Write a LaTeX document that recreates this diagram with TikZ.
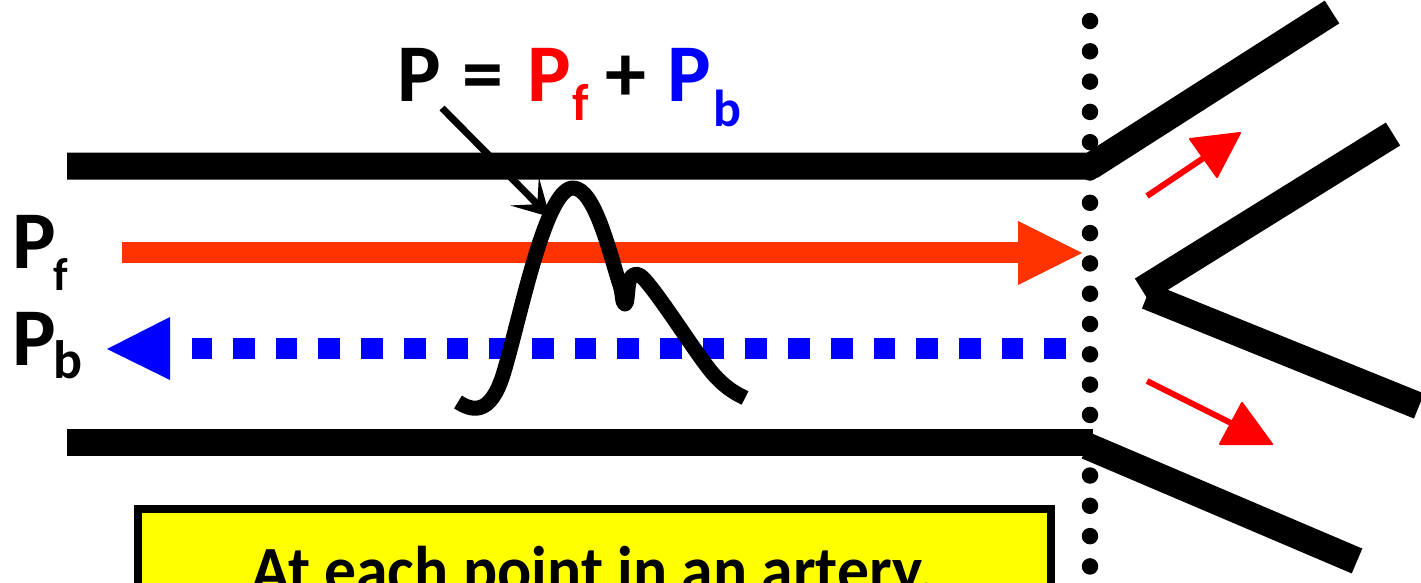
\documentclass[tikz,border=0pt]{standalone}
\usepackage{fontspec}
\setmainfont{Carlito}
\usetikzlibrary{arrows.meta}
\definecolor{pforange}{RGB}{255,51,0}
\definecolor{pfred}{RGB}{255,0,0}
\definecolor{pbblue}{RGB}{0,0,255}
\definecolor{boxyellow}{RGB}{255,255,0}
\newcommand{\subf}[2]{\raisebox{#1}{\fontsize{#2}{#2}\selectfont f}}
\newcommand{\subb}[2]{\raisebox{#1}{\fontsize{#2}{#2}\selectfont b}}
\begin{document}
\begin{tikzpicture}[x=1pt,y=-1pt,
  wall/.style={line width=27pt, line join=bevel, line cap=butt},
  lbl/.style={inner sep=0pt, font=\bfseries\fontsize{82}{82}\selectfont},
  redarrow/.style={pfred, line width=6pt},
  redhead/.style={fill=pfred, draw=pfred, line width=2pt, line join=round},
  dotline/.style={line width=16.5pt, line cap=round, dash pattern=on 0pt off 30.3pt}]
\useasboundingbox (0,0) rectangle (1421,583);
\clip (0,0) rectangle (1421,583);
% key points
\coordinate (tl) at (67,166);
\coordinate (tr) at (1091,166);
\coordinate (tu) at (1332,12);
\coordinate (bl) at (67,442);
\coordinate (br) at (1093,442);
\coordinate (bds) at (1087,446);
\coordinate (bde) at (1357,561);
\coordinate (vapexU) at (1142,290);
\coordinate (vapexL) at (1147,296);
\coordinate (vu) at (1393,134);
\coordinate (vl) at (1419,406);
% walls
\draw[wall] (tl) -- (tr) -- (tu);
\draw[wall] (bl) -- (br);
\draw[wall] (bds) -- (bde);
\draw[wall] (vapexU) -- (vu);
\draw[wall] (vapexL) -- (vl);
% yellow box
\draw[line width=8pt, fill=boxyellow] (138,509) rectangle (1050.5,640);
\node[inner sep=0pt, anchor=base, font=\bfseries\fontsize{66}{66}\selectfont] (txt) at (593,592.5)
  {\scalebox{0.965}[1]{At each point in an artery,}};
% forward arrow (orange)
\coordinate (pfs) at (122,252.5);
\coordinate (pfe) at (1019,252.5);
\draw[pforange, line width=21pt] (pfs) -- (pfe);
\fill[pforange] (1018,221) -- (1018,285) -- (1082,253) -- cycle;
% backward arrow (blue, dotted)
\coordinate (pbs) at (1066,348.5);
\coordinate (pbe) at (192,348.5);
\draw[pbblue, line width=21pt, dash pattern=on 21.7pt off 21pt] (pbs) -- (pbe);
\fill[pbblue] (170,317) -- (170,380) -- (107,349) -- cycle;
% dotted boundary
\coordinate (dtop) at (1090,21);
\coordinate (dbot) at (1090,600);
\draw[dotline] (dtop) -- (dbot);
% red arrows into branches
\coordinate (ra1) at (1147,196);
\coordinate (ra1e) at (1205,157);
\draw[redarrow] (ra1) -- (ra1e);
\filldraw[redhead] (1190,139) -- (1217,177) -- (1240,133) -- cycle;
\coordinate (ra2) at (1147,381);
\coordinate (ra2e) at (1233,424);
\draw[redarrow] (ra2) -- (ra2e);
\filldraw[redhead] (1242,403) -- (1220,444) -- (1272,444) -- cycle;
% pressure wave
\draw[line width=15pt, line join=round, line cap=butt]
  (458,402) .. controls (472,411) and (490,416) .. (503,375)
  .. controls (520,320) and (545,188) .. (573,188)
  .. controls (595,188) and (610,255) .. (620,285)
  .. controls (623,294) and (622,304) .. (625,304)
  .. controls (628,304) and (627,285) .. (630,279)
  .. controls (633,273) and (638,272) .. (645,280)
  .. controls (665,303) and (700,360) .. (715,376)
  .. controls (727,389) and (737,394) .. (745,398);
% labels
\node[lbl, anchor=base west] (eq) at (397,102)
  {P\kern3pt{} =\kern6pt{} \textcolor{pfred}{P\kern1pt\subf{-19pt}{52}}\kern-2pt{} +\kern3pt{} \textcolor{pbblue}{P\kern2pt\subb{-25pt}{52}}};
\node[lbl, anchor=base west] (lpf) at (12,268) {P\kern-2pt\subf{-22pt}{46}};
\node[lbl, anchor=base west] (lpb) at (12,365) {P\kern-2pt\subb{-13pt}{54}};
% pointer
\coordinate (ps) at (442,108);
\coordinate (pe) at (550,217);
\draw[line width=7pt, -{Stealth[length=36pt, width=40pt, inset=18pt]}] (ps) -- (pe);
\end{tikzpicture}
\end{document}
